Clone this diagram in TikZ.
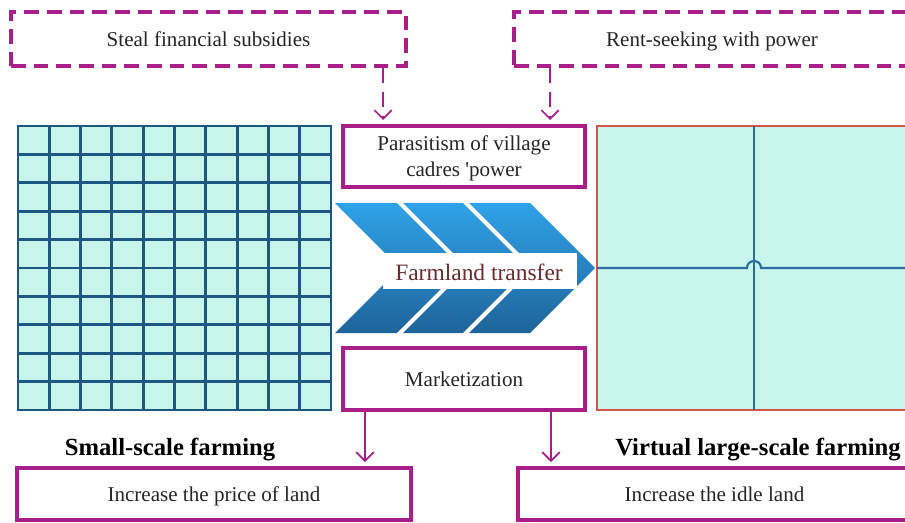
\documentclass[tikz,border=0pt]{standalone}
\usepackage{fontspec}
\setmainfont{Liberation Serif}
\usetikzlibrary{arrows.meta}
\definecolor{pur}{RGB}{170,30,140}
\definecolor{mint}{RGB}{200,245,235}
\definecolor{gridc}{RGB}{30,88,128}
\definecolor{redb}{RGB}{213,84,74}
\definecolor{bline}{RGB}{40,110,165}
\definecolor{chtop}{RGB}{47,162,232}
\definecolor{chbot}{RGB}{30,100,155}
\definecolor{brn}{RGB}{106,44,44}
\begin{document}
\begin{tikzpicture}[x=0.75pt,y=-0.75pt,
  txt/.style={inner sep=0pt,text=black!85,
    font=\fontsize{15.8}{19.5}\selectfont,align=center},
  box/.style={txt,draw=pur,line width=3pt},
  one/.style={text height=12.5pt,text depth=1pt},
  dbox/.style={box,one,dash pattern=on 11pt off 6pt},
  arr/.style={draw=pur,line width=1.2pt,shorten >=3pt,
    -{Straight Barb[length=6.5pt,width=13pt,line width=1.3pt]}},
  darr/.style={arr,dash pattern=on 11pt off 7pt},
  lbl/.style={font=\fontsize{18.5}{22}\selectfont\bfseries,inner sep=0pt,
    text height=15pt,text depth=1.5pt},
]
\useasboundingbox (0,0) rectangle (905,522);
\clip (0,0) rectangle (905,522);
% small-scale farming grid
\fill[mint] (18,126) rectangle (331,410);
\foreach \i in {1,...,9} {
  \draw[gridc,line width=2.2pt] ({18+\i*31.3},126) -- ({18+\i*31.3},410);
  \draw[gridc,line width=2.2pt] (18,{126+\i*28.4}) -- (331,{126+\i*28.4});
}
\draw[gridc,line width=2.2pt] (18,126) rectangle (331,410);
% virtual large-scale farming
\draw[redb,line width=1.5pt,fill=mint] (597,126) rectangle (915,410);
\draw[bline,line width=1.6pt] (754,126) -- (754,410);
\draw[bline,line width=1.6pt] (597,268) -- (747,268)
  .. controls (747,258.7) and (761,258.7) .. (761,268) -- (915,268);
% chevron
\shade[top color=chtop,bottom color=chbot]
  (335,203) -- (530,203) -- (595,268) -- (530,333) -- (335,333) -- (400,268) -- cycle;
\draw[white,line width=3pt] (397,200) -- (455,258) (463,200) -- (521,258)
  (397,336) -- (455,278) (463,336) -- (521,278);
\fill[white] (383,253) rectangle (577,289);
\node[font=\fontsize{17.6}{21}\selectfont,text=brn,inner sep=0pt] (ft) at (479,272) {Farmland transfer};
% boxes
\node[dbox,minimum width=296.25pt,minimum height=40.5pt] (steal) at (208.5,39) {Steal financial subsidies};
\node[dbox,minimum width=297pt,minimum height=40.5pt] (rent) at (712,39) {Rent-seeking with power};
\node[box,minimum width=181.5pt,minimum height=45.75pt] (para) at (464,156.5) {};
\node[txt] (paratext) at (464,158.5) {Parasitism of village\\cadres \textquotesingle power};
\node[box,one,minimum width=181.5pt,minimum height=46.5pt] (mkt) at (464,379) {Marketization};
\node[box,one,minimum width=295.5pt,minimum height=39pt] (price) at (214,494) {Increase the price of land};
\node[box,one,minimum width=294.75pt,minimum height=39pt] (idle) at (714.5,494) {Increase the idle land};
% labels
\node[lbl] (lsmall) at (170,446) {Small-scale farming};
\node[lbl] (lvirt) at (758,446) {Virtual large-scale farming};
% connectors
\coordinate (c1) at (383,0);
\coordinate (c2) at (550,0);
\coordinate (c3) at (365,0);
\coordinate (c4) at (551,0);
\draw[darr] (steal.south -| c1) -- (para.north -| c1);
\draw[darr] (rent.south -| c2) -- (para.north -| c2);
\draw[arr] (mkt.south -| c3) -- (price.north -| c3);
\draw[arr] (mkt.south -| c4) -- (idle.north -| c4);
\end{tikzpicture}
\end{document}
